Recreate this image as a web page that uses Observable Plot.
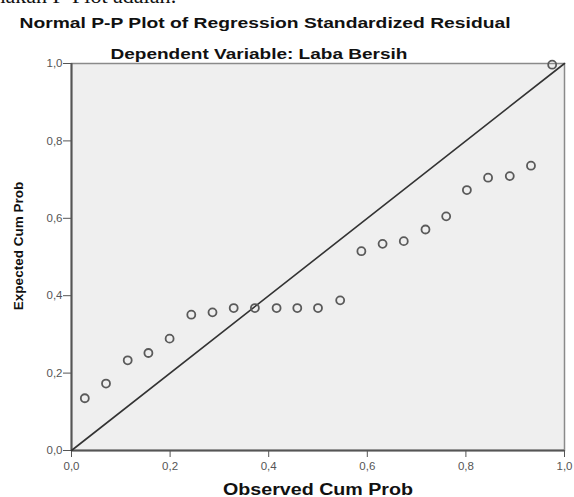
<!DOCTYPE html>
<html>
<head>
<meta charset="utf-8">
<script src="https://cdn.jsdelivr.net/npm/d3@7"></script>
<script src="https://cdn.jsdelivr.net/npm/@observablehq/plot@0.6"></script>
<style>
  html, body { margin: 0; padding: 0; background: #fff; }
  #chart { position: relative; width: 574px; height: 497px; overflow: hidden; }
</style>
</head>
<body>
<div id="chart"></div>
<script>
// Observed cumulative probability (x) and expected cumulative probability (y)
const observedCumProb = [0.027, 0.070, 0.114, 0.156, 0.199, 0.243, 0.286, 0.329, 0.372, 0.416, 0.458, 0.500,
                         0.545, 0.588, 0.631, 0.674, 0.718, 0.760, 0.802, 0.845, 0.889, 0.932, 0.975];
const expectedCumProb = [0.135, 0.173, 0.233, 0.252, 0.289, 0.351, 0.357, 0.368, 0.368, 0.368, 0.368, 0.368,
                         0.388, 0.515, 0.534, 0.541, 0.571, 0.605, 0.673, 0.705, 0.709, 0.736, 0.997];
const tickValues = [0, 0.2, 0.4, 0.6, 0.8, 1.0];
const tickLabels = ["0,0", "0,2", "0,4", "0,6", "0,8", "1,0"];
const titleText = "Normal P-P Plot of Regression Standardized Residual";
const subtitleText = "Dependent Variable: Laba Bersih";
const xLabel = "Observed Cum Prob";
const yLabel = "Expected Cum Prob";
const pageText = "nakan P-Plot adalah:";
const diagonal = [[0, 0], [1, 1]];

const points = observedCumProb.map((x, i) => ({x, y: expectedCumProb[i]}));
const fmt = d => tickLabels[tickValues.findIndex(v => Math.abs(v - d) < 1e-9)];

const chart = Plot.plot({
  width: 574,
  height: 497,
  marginLeft: 71,
  marginRight: 10,
  marginTop: 63,
  marginBottom: 47,
  style: {fontFamily: "'Liberation Sans', Arial, sans-serif", fontSize: "11px", background: "transparent", overflow: "visible"},
  x: {domain: [0, 1]},
  y: {domain: [0, 1]},
  marks: [
    Plot.frame({fill: "#efefef", stroke: "#8a8a8a", strokeWidth: 1.5}),
    Plot.ruleX([0], {stroke: "#555", strokeWidth: 2}),
    Plot.ruleY([0], {stroke: "#555", strokeWidth: 2}),
    Plot.axisX({ticks: tickValues, tickFormat: fmt, tickSize: 7, tickPadding: 4, color: "#555", label: null, fontSize: 11.5}),
    Plot.axisY({ticks: tickValues, tickFormat: fmt, tickSize: 8, tickPadding: 1, color: "#555", label: null, fontSize: 11.5}),
    Plot.line(diagonal, {x: d => d[0], y: d => d[1], stroke: "#333", strokeWidth: 1.6}),
    Plot.dot(points, {x: "x", y: "y", r: 4, stroke: "#5a5a5a", strokeWidth: 1.8, fill: "none"}),
    Plot.text([xLabel], {frameAnchor: "bottom", dy: 44, lineAnchor: "bottom", fontWeight: "bold", fontSize: 16, fill: "#111", textAnchor: "middle"}),
    Plot.text([yLabel], {frameAnchor: "left", dx: -53, dy: -11, rotate: -90, fontWeight: "bold", fontSize: 13.5, fill: "#111", textAnchor: "middle"}),
    Plot.text([titleText], {frameAnchor: "top", dx: -53, dy: -36, lineAnchor: "bottom", fontWeight: "bold", fontSize: 15, fill: "#111", textAnchor: "middle"}),
    Plot.text([subtitleText], {frameAnchor: "top", dx: -59, dy: -5, lineAnchor: "bottom", fontWeight: "bold", fontSize: 15, fill: "#111", textAnchor: "middle"}),
    Plot.text([pageText], {frameAnchor: "top-left", dx: -77, dy: -61, fontFamily: "'Liberation Serif', 'Times New Roman', serif", fontSize: 22, fill: "#111", textAnchor: "start", lineAnchor: "bottom"})
  ]
});

// stretch the titles to the widths they occupy in the reference
const widths = {[titleText]: 491, [subtitleText]: 297, [xLabel]: 190};
d3.select(chart).selectAll("text").each(function() {
  const t = this.textContent;
  if (widths[t]) {
    d3.select(this).attr("textLength", widths[t]).attr("lengthAdjust", "spacingAndGlyphs");
  }
});
document.getElementById("chart").appendChild(chart);
</script>
</body>
</html>
